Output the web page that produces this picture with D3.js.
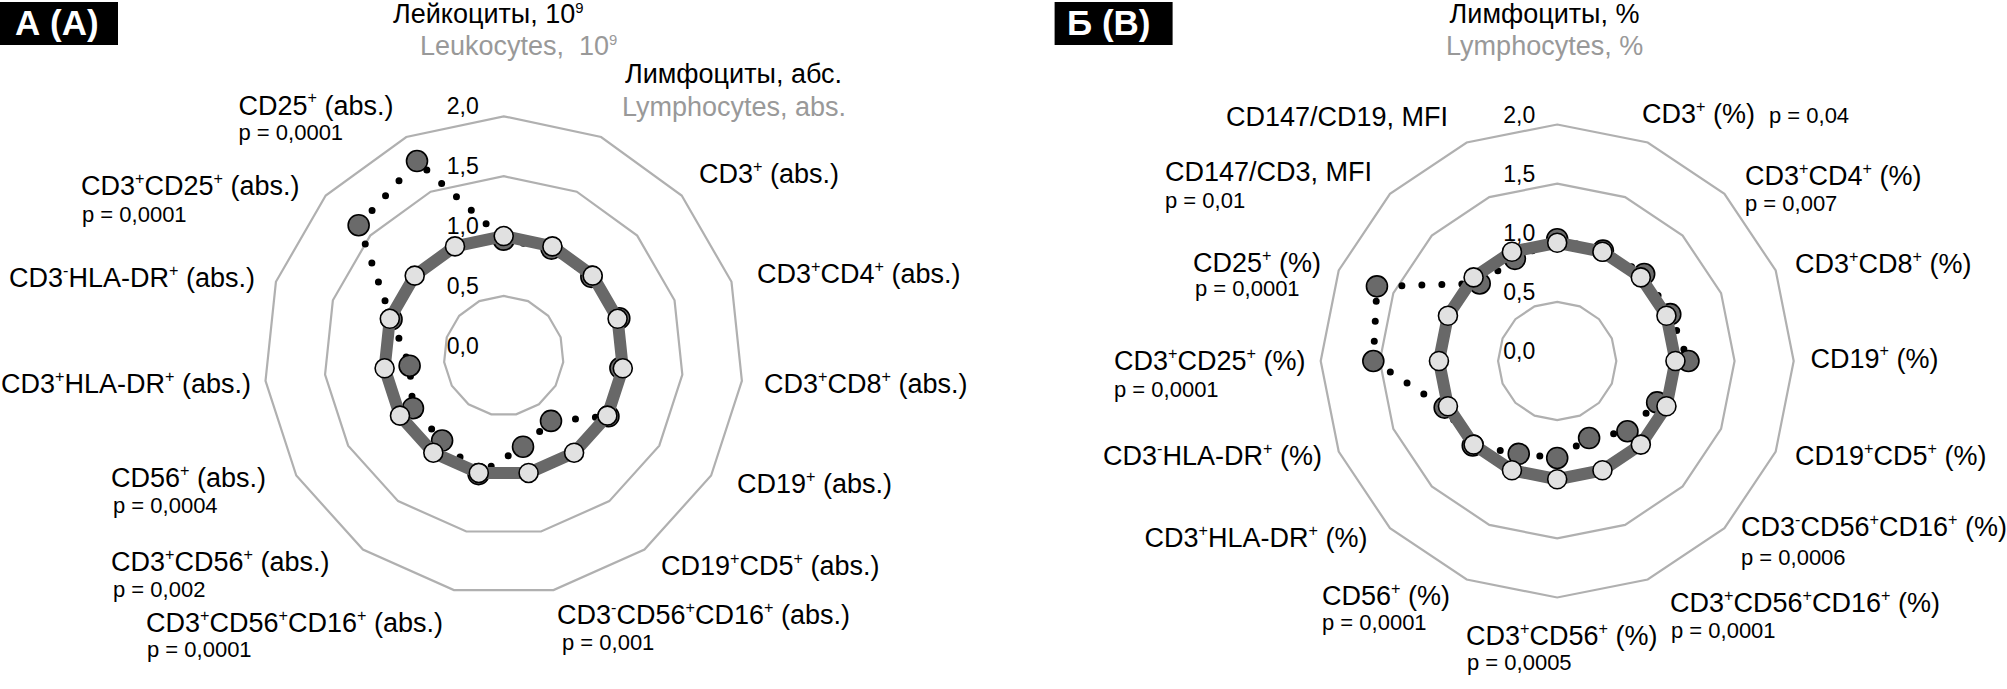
<!DOCTYPE html>
<html><head><meta charset="utf-8">
<script src="https://cdn.jsdelivr.net/npm/d3@7"></script>
<style>
html,body{margin:0;padding:0;background:#fff;}
svg{display:block;font-family:"Liberation Sans",Arial,Helvetica,sans-serif;}
svg text{white-space:pre;}
</style></head><body>
<svg id="chart" width="2007" height="689"></svg>
<script>
// ================= DATA =================
const panelTitles = ["А (A)", "Б (B)"];

const tickValues = [0, 0.5, 1, 1.5, 2];
const tickLabels = ["0,0", "0,5", "1,0", "1,5", "2,0"];
const gridValues = [0.5, 1, 1.5, 2];

// Panel A (absolute counts)
const categoriesA = ["Лейкоциты, 10⁹", "Лимфоциты, абс.", "CD3⁺ (abs.)", "CD3⁺CD4⁺ (abs.)", "CD3⁺CD8⁺ (abs.)",
  "CD19⁺ (abs.)", "CD19⁺CD5⁺ (abs.)", "CD3⁻CD56⁺CD16⁺ (abs.)", "CD3⁺CD56⁺CD16⁺ (abs.)", "CD3⁺CD56⁺ (abs.)",
  "CD56⁺ (abs.)", "CD3⁺HLA-DR⁺ (abs.)", "CD3⁻HLA-DR⁺ (abs.)", "CD3⁺CD25⁺ (abs.)", "CD25⁺ (abs.)"];
const subtitlesA = ["Leukocytes,  10⁹", "Lymphocytes, abs.", null, null, null, null, null, null, null, null, null, null, null, null, null];
const pValuesA = [null, null, null, null, null, null, null, "p = 0,001", "p = 0,0001", "p = 0,002",
  "p = 0,0004", null, null, "p = 0,0001", "p = 0,0001"];
const controlA = [1, 1, 1, 1, 1, 1, 1, 1, 1, 1, 1, 1, 1, 1, 1];
const patientA = [0.97, 0.98, 0.985, 1.015, 0.98, 1.01, 0.672, 0.776, 1.01, 0.875, 0.875, 0.79, 0.985, 1.63, 1.78];

// Panel B (percentages)
const categoriesB = ["Лимфоциты, %", "CD3⁺ (%)", "CD3⁺CD4⁺ (%)", "CD3⁺CD8⁺ (%)", "CD19⁺ (%)", "CD19⁺CD5⁺ (%)",
  "CD3⁻CD56⁺CD16⁺ (%)", "CD3⁺CD56⁺CD16⁺ (%)", "CD3⁺CD56⁺ (%)", "CD56⁺ (%)", "CD3⁺HLA-DR⁺ (%)",
  "CD3⁻HLA-DR⁺ (%)", "CD3⁺CD25⁺ (%)", "CD25⁺ (%)", "CD147/CD3, MFI", "CD147/CD19, MFI"];
const subtitlesB = ["Lymphocytes, %", null, null, null, null, null, null, null, null, null, null, null, null, null, null, null];
const pValuesB = [null, "p = 0,04", "p = 0,007", null, null, null, "p = 0,0006", "p = 0,0001", "p = 0,0005",
  "p = 0,0001", null, null, "p = 0,0001", "p = 0,0001", "p = 0,01", null];
const controlB = [1, 1, 1, 1, 1, 1, 1, 1, 1, 1, 1, 1, 1, 1, 1, 1];
const patientB = [1.03, 1.01, 1.04, 1.035, 1.11, 0.915, 0.84, 0.705, 0.82, 0.85, 1.01, 1.03, 1.555, 1.65, 0.927, 0.935];

// ================= LAYOUT (label placement, relative to panel centre) =================
const labelPosA = [[-110.7, -332.8], [121.3, -272.8], [195.3, -172.8], [253.3, -72.8], [260.3, 37.2],
  [233.3, 137.2], [157.3, 219.2], [53.3, 268.2], [-357.7, 276.2], [-392.7, 215.7],
  [-392.7, 131.7], [-502.7, 37.7], [-494.7, -68.8], [-422.7, -160.8], [-265.2, -241.3]];
const subPosA = [[27, 32], [-3, 33]];
const pPosA = [null, null, null, null, null, null, null, [5, 26], [1, 25], [2, 26], [2, 26], null, null, [1, 27], [0, 25]];

const labelPosB = [[-107.6, -338], [84.8, -238], [187.8, -176], [237.8, -88], [253.3, 6.5],
  [237.8, 104], [183.8, 175], [112.8, 251], [-91.2, 284], [-235.2, 244],
  [-412.7, 186], [-454.2, 104], [-443.2, 9], [-364.2, -89], [-392.2, -180], [-331.2, -235]];
const subPosB = [[-3.5, 32]];
const pPosB = [null, "inline", [0, 26], null, null, null, [0, 29], [1, 26], [1, 25], [0, 25], null, null, [0, 27], [2, 24], [0, 27], null];

// ================= DRAWING =================
const svg = d3.select("#chart");
svg.append("rect").attr("width", 2007).attr("height", 689).attr("fill", "#fff");

const SUP = {"⁺": "+", "⁻": "-", "⁹": "9"};
function richText(textSel, str, fs) {
  const segs = [];
  for (const ch of str) {
    const sup = ch in SUP;
    const c = sup ? SUP[ch] : ch;
    if (segs.length && segs[segs.length - 1].sup === sup) segs[segs.length - 1].t += c;
    else segs.push({sup, t: c});
  }
  let shift = 0;
  segs.forEach(s => {
    const ts = textSel.append("tspan").text(s.t);
    if (s.sup) {
      const lift = /\d/.test(s.t) ? fs * 0.36 : fs * 0.42;
      const size = /\d/.test(s.t) ? 0.55 : 0.6;
      ts.attr("font-size", fs * size).attr("dy", -lift - shift);
      shift = -lift;
    } else {
      ts.attr("dy", -shift);
      shift = 0;
    }
  });
}

function drawPanel(cfg) {
  const n = cfg.categories.length;
  const g = svg.append("g").attr("transform", `translate(${cfg.cx},${cfg.cy})`);
  const angle = d3.scaleLinear().domain([0, n]).range([0, 2 * Math.PI]);
  const r = d3.scaleLinear().domain([0, 2]).range([0, cfg.rMax]);
  const radial = d3.lineRadial().angle((d, i) => angle(i)).radius(d => r(d)).curve(d3.curveLinearClosed);
  const px = (v, i) => r(v) * Math.sin(angle(i));
  const py = (v, i) => -r(v) * Math.cos(angle(i));

  // grid rings
  g.selectAll("path.grid").data(gridValues).join("path")
    .attr("class", "grid")
    .attr("d", v => radial(cfg.categories.map(() => v)))
    .attr("fill", "none").attr("stroke", "#b0b0b0").attr("stroke-width", 2.2);

  // tick labels
  g.selectAll("text.tick").data(tickValues).join("text")
    .attr("class", "tick")
    .attr("x", -cfg.tickDx).attr("y", d => -r(d) - 2)
    .attr("text-anchor", "end").attr("font-size", 23).attr("fill", "#000")
    .text((d, i) => tickLabels[i]);

  // patient series: dotted line + dark circles
  g.append("path").attr("d", radial(cfg.patient))
    .attr("fill", "none").attr("stroke", "#000").attr("stroke-width", 7)
    .attr("stroke-linecap", "round").attr("stroke-dasharray", "0 20");
  g.selectAll("circle.pat").data(cfg.patient).join("circle")
    .attr("class", "pat")
    .attr("cx", (d, i) => px(d, i)).attr("cy", (d, i) => py(d, i)).attr("r", 10.5)
    .attr("fill", "#6a6a6a").attr("stroke", "#000").attr("stroke-width", 1.6);

  // control series: thick gray line + light circles
  g.append("path").attr("d", radial(cfg.control))
    .attr("fill", "none").attr("stroke", "#686868").attr("stroke-width", 12)
    .attr("stroke-linejoin", "round");
  g.selectAll("circle.ctl").data(cfg.control).join("circle")
    .attr("class", "ctl")
    .attr("cx", (d, i) => px(d, i)).attr("cy", (d, i) => py(d, i)).attr("r", 9.5)
    .attr("fill", "#e1e1e1").attr("stroke", "#000").attr("stroke-width", 1.6);

  // category labels
  cfg.categories.forEach((label, i) => {
    const [dx, dy] = cfg.labelPos[i];
    const t = g.append("text").attr("x", dx).attr("y", dy)
      .attr("font-size", 27).attr("fill", "#000");
    richText(t, label, 27);
    if (cfg.subtitles[i]) {
      const [sx, sy] = cfg.subPos[i];
      const s = g.append("text").attr("x", dx + sx).attr("y", dy + sy)
        .attr("font-size", 27).attr("fill", "#999");
      richText(s, cfg.subtitles[i], 27);
    }
    if (cfg.pValues[i]) {
      const pp = cfg.pPos[i];
      if (pp === "inline") {
        const w = t.node().getComputedTextLength();
        g.append("text").attr("x", dx + w + 14).attr("y", dy)
          .attr("font-size", 22).attr("fill", "#000").text(cfg.pValues[i]);
      } else {
        g.append("text").attr("x", dx + pp[0]).attr("y", dy + pp[1])
          .attr("font-size", 22).attr("fill", "#000").text(cfg.pValues[i]);
      }
    }
  });
}

drawPanel({cx: 503.7, cy: 355.8, rMax: 239.5, tickDx: 25,
  categories: categoriesA, subtitles: subtitlesA, pValues: pValuesA,
  control: controlA, patient: patientA,
  labelPos: labelPosA, subPos: subPosA, pPos: pPosA});
drawPanel({cx: 1557.2, cy: 361, rMax: 236.5, tickDx: 22,
  categories: categoriesB, subtitles: subtitlesB, pValues: pValuesB,
  control: controlB, patient: patientB,
  labelPos: labelPosB, subPos: subPosB, pPos: pPosB});

// panel title boxes
const boxes = [{x: 0, tx: 15}, {x: 1054.6, tx: 1067}];
boxes.forEach((b, i) => {
  svg.append("rect").attr("x", b.x).attr("y", 2).attr("width", 118).attr("height", 43).attr("fill", "#000");
  svg.append("text").attr("x", b.tx).attr("y", 35).attr("font-size", 35).attr("font-weight", "bold")
    .attr("fill", "#fff").text(panelTitles[i]);
});
</script>
</body></html>
